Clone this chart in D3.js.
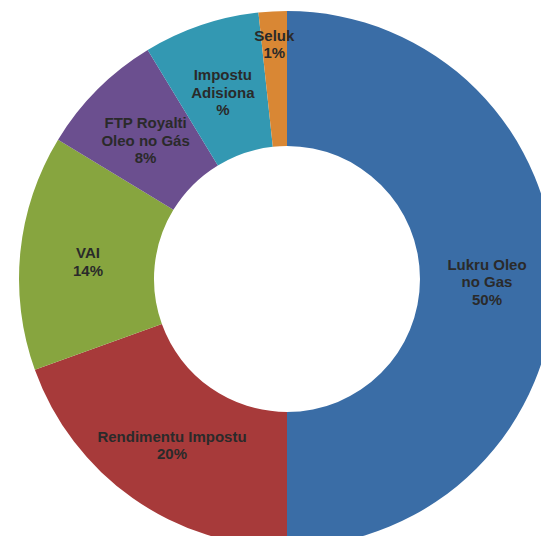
<!DOCTYPE html>
<html>
<head>
<meta charset="utf-8">
<script src="https://cdn.jsdelivr.net/npm/d3@7"></script>
<style>
  body { margin: 0; background: #fff; }
  text { font-family: "Liberation Sans", Arial, sans-serif; font-weight: bold; fill: #2a2a2a; }
</style>
</head>
<body>
<div id="chart"></div>
<script>
// slices, clockwise from 12 o'clock
var names = ["Lukru Oleo no Gas", "Rendimentu Impostu", "VAI", "FTP Royalti Oleo no Gás", "Impostu Adisional", "Seluk"];
var values = [50.0, 19.5, 14.2, 7.6, 7.0, 1.7];
// label lines as printed on the chart
var labels = [
  ["Lukru Oleo", "no Gas", "50%"],
  ["Rendimentu Impostu", "20%"],
  ["VAI", "14%"],
  ["FTP Royalti", "Oleo no Gás", "8%"],
  ["Impostu", "Adisiona", "%"],
  ["Seluk", "1%"]
];
var colors = ["#3a6da6", "#a73a3a", "#87a53f", "#6b4f8f", "#3398b2", "#d98734"];

var width = 541, height = 536;
var cx = 287, cy = 279;
var outerR = 268, innerR = 133;

var svg = d3.select("#chart").append("svg")
  .attr("width", width)
  .attr("height", height)
  .append("g")
  .attr("transform", "translate(" + cx + "," + cy + ")");

var pie = d3.pie().sort(null).value(function(d) { return d; });
var arcs = pie(values);

var arc = d3.arc().innerRadius(innerR).outerRadius(outerR);

svg.selectAll("path")
  .data(arcs)
  .enter().append("path")
  .attr("d", arc)
  .attr("fill", function(d, i) { return colors[i]; });

// small slices get their label pushed outward
function labelPos(d) {
  var r = d.value < 3 ? 238 : 200;
  var a = (d.startAngle + d.endAngle) / 2;
  return [Math.sin(a) * r, -Math.cos(a) * r];
}

var lineH = 17.5;
svg.selectAll("text")
  .data(arcs)
  .enter().append("text")
  .attr("text-anchor", "middle")
  .style("font-size", "15px")
  .each(function(d, i) {
    var p = labelPos(d);
    var lines = labels[i];
    var y0 = p[1] - (lines.length - 1) * lineH / 2 + 8;
    d3.select(this).selectAll("tspan")
      .data(lines)
      .enter().append("tspan")
      .attr("x", p[0])
      .attr("y", function(l, j) { return y0 + j * lineH; })
      .text(function(l) { return l; });
  });
</script>
</body>
</html>
